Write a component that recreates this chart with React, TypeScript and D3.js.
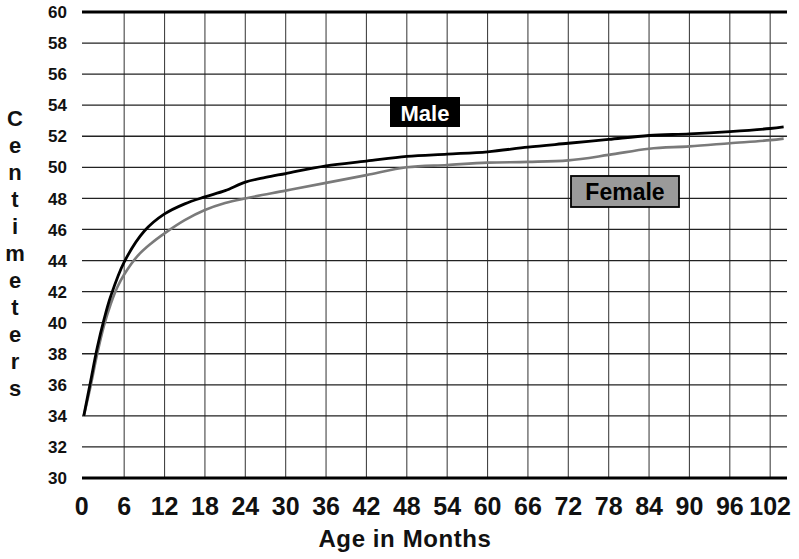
import React from 'react';
import * as d3 from 'd3';

const maleMonths = [0, 1, 2, 3, 4, 6, 9, 12, 15, 18, 21, 24, 27, 30, 36, 42, 48, 54, 60, 66, 72, 78, 84, 90, 96, 102, 104];
const maleCm = [34, 36.2, 38.4, 40.2, 41.7, 43.9, 45.9, 47.0, 47.65, 48.1, 48.5, 49.05, 49.35, 49.6, 50.1, 50.4, 50.7, 50.85, 51.0, 51.3, 51.55, 51.8, 52.05, 52.15, 52.3, 52.5, 52.6];

const femaleMonths = [0, 1, 2, 3, 4, 5, 6, 8, 10, 12, 15, 18, 21, 24, 30, 36, 42, 48, 54, 60, 66, 72, 78, 84, 90, 96, 102, 104];
const femaleCm = [34, 35.9, 38.0, 39.8, 41.2, 42.3, 43.1, 44.3, 45.1, 45.75, 46.6, 47.25, 47.7, 48.0, 48.5, 49.0, 49.5, 50.0, 50.15, 50.3, 50.35, 50.45, 50.8, 51.2, 51.35, 51.55, 51.75, 51.85];

const xTicks = [0, 6, 12, 18, 24, 30, 36, 42, 48, 54, 60, 66, 72, 78, 84, 90, 96, 102];
const yTicks = [30, 32, 34, 36, 38, 40, 42, 44, 46, 48, 50, 52, 54, 56, 58, 60];
const yTitle = 'Centimeters';

const W = 799;
const H = 559;
const left = 82;
const right = 787;
const top = 12;
const bottom = 478;

export default function App() {
  const x = d3.scaleLinear().domain([0, 104.5]).range([83.8, right]);
  const y = d3.scaleLinear().domain([30, 60]).range([bottom, top]);

  const line = d3
    .line<[number, number]>()
    .x((d) => x(d[0]))
    .y((d) => y(d[1]))
    .curve(d3.curveCatmullRom.alpha(0.5));

  const male = maleMonths.map((m, i) => [m, maleCm[i]] as [number, number]);
  const female = femaleMonths.map((m, i) => [m, femaleCm[i]] as [number, number]);

  const font = 'Arial, "Liberation Sans", Helvetica, sans-serif';

  return (
    <svg width={W} height={H} style={{ position: 'absolute', left: 0, top: 0, background: '#fff' }} fontFamily={font}>
      {/* grid */}
      {xTicks.filter((t) => t > 0).map((t) => (
        <line key={'v' + t} x1={x(t)} x2={x(t)} y1={top} y2={bottom} stroke="#444" strokeWidth={1.1} />
      ))}
      {yTicks.filter((t) => t > 30 && t < 60).map((t) => (
        <line key={'h' + t} x1={left} x2={right} y1={y(t)} y2={y(t)} stroke="#222" strokeWidth={1.3} />
      ))}
      <line x1={left} x2={right} y1={y(60)} y2={y(60)} stroke="#000" strokeWidth={3} />
      <line x1={left} x2={right} y1={y(30)} y2={y(30)} stroke="#000" strokeWidth={3} />

      {/* curves */}
      <path d={line(female) || ''} fill="none" stroke="#7a7a7a" strokeWidth={2.6} />
      <path d={line(male) || ''} fill="none" stroke="#000" strokeWidth={2.8} />

      {/* y ticks */}
      {yTicks.map((t) => (
        <text key={'yl' + t} x={67} y={y(t)} dy="0.36em" textAnchor="end" fontSize={17} fontWeight="bold" fill="#111">
          {t}
        </text>
      ))}
      {/* x ticks */}
      {xTicks.map((t) => (
        <text key={'xl' + t} x={t === 0 ? x(t) - 2 : x(t)} y={515} textAnchor="middle" fontSize={25} fontWeight="bold" fill="#111">
          {t}
        </text>
      ))}

      <text x={405} y={547} textAnchor="middle" fontSize={24} fontWeight="bold" letterSpacing={0.6} fill="#111">
        Age in Months
      </text>

      {yTitle.split('').map((c, i) => (
        <text key={'yt' + i} x={15} y={126 + i * 27} textAnchor="middle" fontSize={22} fontWeight="bold" fill="#111">
          {c}
        </text>
      ))}

      {/* series labels */}
      <rect x={390} y={97} width={70} height={30} fill="#000" />
      <text x={425} y={121} textAnchor="middle" fontSize={22} fontWeight="bold" fill="#fff">
        Male
      </text>
      <rect x={571} y={176} width={108} height={31} fill="#9a9a9a" stroke="#000" strokeWidth={1.8} />
      <text x={625} y={200} textAnchor="middle" fontSize={23} fontWeight="bold" fill="#000">
        Female
      </text>
    </svg>
  );
}
